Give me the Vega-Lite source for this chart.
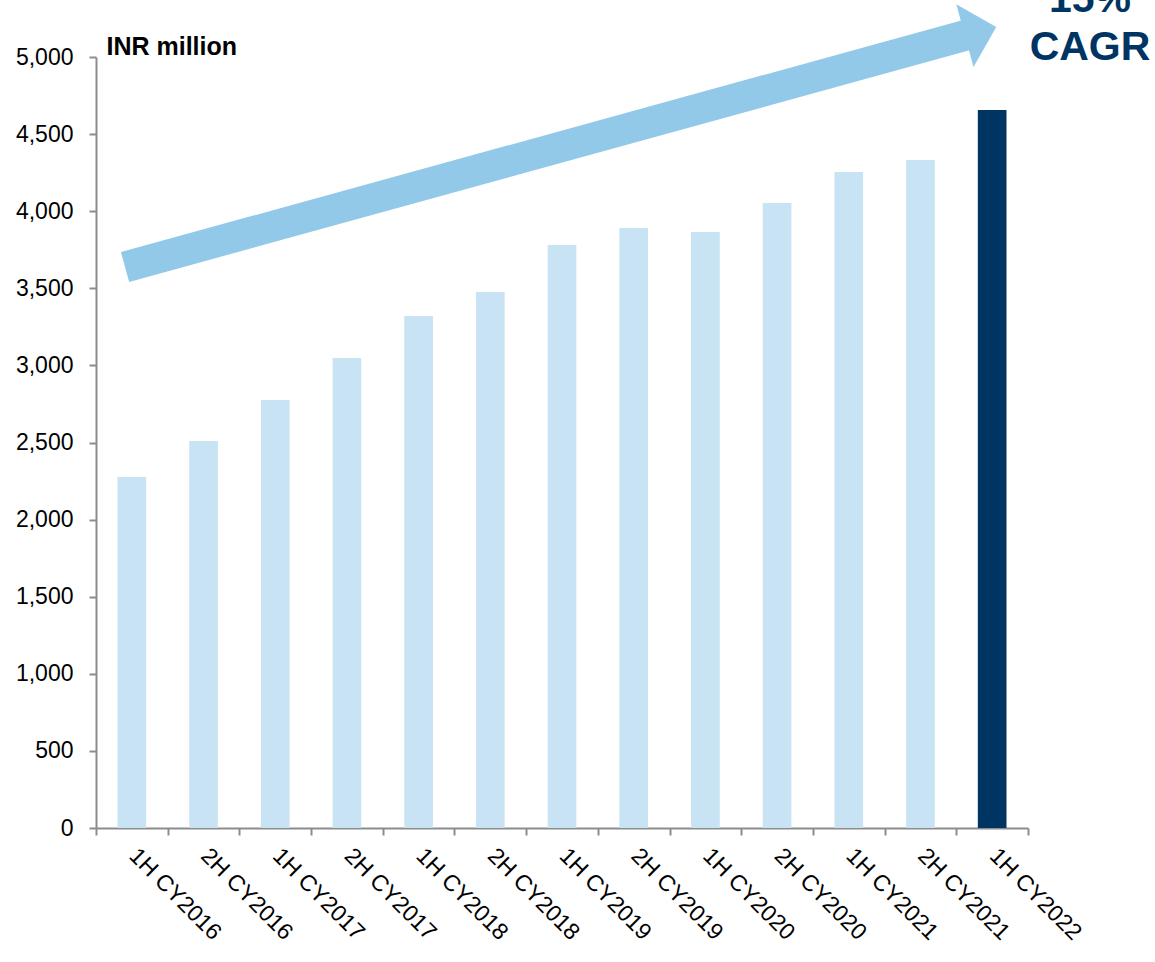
{
  "$schema": "https://vega.github.io/schema/vega-lite/v6.json",
  "autosize": {"type": "none"},
  "width": 932,
  "height": 771,
  "padding": {"left": 96, "top": 57, "right": 127, "bottom": 134},
  "background": "white",
  "config": {
    "view": {"stroke": null},
    "font": "Liberation Sans",
    "axis": {"grid": false, "domainColor": "#8c8c8c", "tickColor": "#8c8c8c", "domainWidth": 2, "tickWidth": 2, "labelColor": "#000000", "labelFont": "Liberation Sans"}
  },
  "encoding": {
    "y": {
      "field": "v", "type": "quantitative",
      "scale": {"domain": [0, 5000], "nice": false, "zero": true},
      "axis": {
        "values": [0, 500, 1000, 1500, 2000, 2500, 3000, 3500, 4000, 4500, 5000],
        "format": ",.0f", "labelFontSize": 23, "labelPadding": 16, "tickSize": 7,
        "title": "INR million", "titleAngle": 0, "titleX": 10, "titleY": -3,
        "titleAlign": "left", "titleBaseline": "alphabetic", "titleFontSize": 25,
        "titleFontWeight": "bold", "titleColor": "#000000", "titleFont": "Liberation Sans"
      }
    }
  },
  "layer": [
    {
      "data": {"values": [
        {"period": "1H CY2016", "v": 2276, "type": "hist"},
        {"period": "2H CY2016", "v": 2510, "type": "hist"},
        {"period": "1H CY2017", "v": 2776, "type": "hist"},
        {"period": "2H CY2017", "v": 3048, "type": "hist"},
        {"period": "1H CY2018", "v": 3320, "type": "hist"},
        {"period": "2H CY2018", "v": 3476, "type": "hist"},
        {"period": "1H CY2019", "v": 3781, "type": "hist"},
        {"period": "2H CY2019", "v": 3891, "type": "hist"},
        {"period": "1H CY2020", "v": 3865, "type": "hist"},
        {"period": "2H CY2020", "v": 4053, "type": "hist"},
        {"period": "1H CY2021", "v": 4254, "type": "hist"},
        {"period": "2H CY2021", "v": 4332, "type": "hist"},
        {"period": "1H CY2022", "v": 4656, "type": "latest"}
      ]},
      "mark": {"type": "bar"},
      "encoding": {
        "x": {
          "field": "period", "type": "nominal", "sort": null,
          "scale": {"paddingInner": 0.6, "paddingOuter": 0.3},
          "axis": {"title": null, "domain": false, "ticks": false, "labelAngle": 45, "labelAlign": "left", "labelBaseline": "top", "labelFontSize": 23, "labelPadding": 16, "labelOffset": 9}
        },
        "color": {
          "field": "type", "type": "nominal",
          "scale": {"domain": ["hist", "latest"], "range": ["#C8E3F3", "#003462"]},
          "legend": null
        }
      }
    },
    {
      "encoding": {
        "x": {
          "field": "x", "type": "quantitative",
          "scale": {"domain": [0, 13], "nice": false, "zero": false},
          "axis": {"orient": "bottom", "title": null, "values": [0,1,2,3,4,5,6,7,8,9,10,11,12,13], "labels": false, "tickSize": 7, "domain": true}
        }
      },
      "layer": [
        {
          "data": {"values": [{"x": 0.405, "v": 3638}, {"x": 12.19, "v": 5148}]},
          "mark": {"type": "line", "color": "#93C9E8", "strokeWidth": 31, "strokeCap": "butt", "clip": false}
        },
        {
          "data": {"values": [{"x": 12.12, "v": 5139}]},
          "mark": {"type": "point", "shape": "M 0 -1 L 1 0 L 0 1 Z", "size": 4225, "angle": 344.6, "filled": true, "fill": "#93C9E8", "opacity": 1, "strokeWidth": 0, "clip": false}
        },
        {
          "data": {"values": [{"x": 13.865, "v": 5292, "label": "15%"}, {"x": 13.865, "v": 4981, "label": "CAGR"}]},
          "mark": {"type": "text", "font": "Liberation Sans", "fontSize": 41, "fontWeight": "bold", "color": "#003462", "align": "center", "baseline": "alphabetic", "clip": false},
          "encoding": {"text": {"field": "label"}}
        }
      ]
    }
  ],
  "resolve": {"scale": {"x": "independent"}, "axis": {"x": "independent"}}
}
